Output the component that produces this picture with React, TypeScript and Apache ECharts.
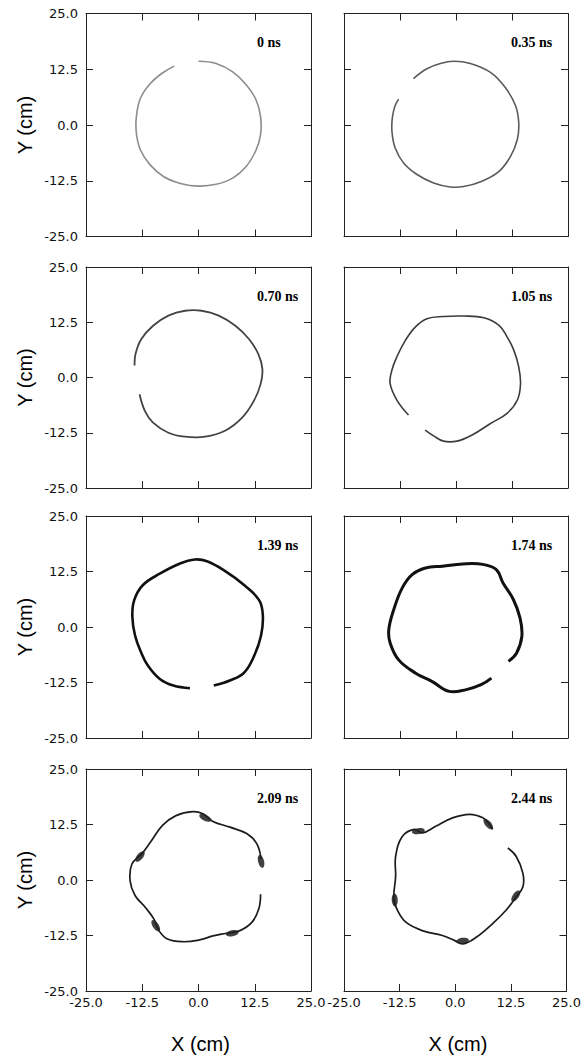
import React, { useEffect, useRef } from "react";
import * as echarts from "echarts";

// Panel time stamps
const timeLabels = ["0 ns", "0.35 ns", "0.70 ns", "1.05 ns", "1.39 ns", "1.74 ns", "2.09 ns", "2.44 ns"];
// Axis tick values (cm)
const axisTicks = [-25, -12.5, 0, 12.5, 25];

// Ring outlines, [x, y] in cm, in order along the ring
const ring0ns = [
  [0, 14.3], [3.9, 13.8], [7.6, 11.9], [10.6, 9.0], [12.8, 5.6], [13.8, 1.8], [13.8, -2.1],
  [12.8, -5.6], [10.6, -9.3], [7.6, -11.9], [3.9, -13.3], [0, -13.7], [-4.0, -13.1],
  [-7.7, -11.6], [-10.7, -9.0], [-12.9, -5.6], [-13.8, -1.9], [-13.8, 1.9], [-12.9, 6.0],
  [-10.7, 9.3], [-8.1, 11.6], [-5.4, 13.2],
];
const ring035ns = [
  [-9.5, 10.4], [-6.5, 12.6], [-3.5, 13.8], [-0.5, 14.3], [3.2, 13.8], [7.7, 11.8], [11.0, 8.4],
  [13.3, 4.3], [14.0, 0.5], [13.7, -3.2], [12.2, -7.0], [9.6, -10.4], [5.8, -12.6], [1.7, -13.8],
  [-1.3, -13.9], [-5.0, -13.0], [-8.7, -11.1], [-11.7, -8.5], [-13.6, -5.1], [-14.3, -1.4],
  [-14.2, 1.7], [-13.6, 4.3], [-12.8, 5.8],
];
const ring070ns = [
  [-14.2, 2.7], [-14.0, 5.3], [-12.7, 8.7], [-10.1, 11.7], [-6.7, 14.0], [-3.0, 15.1], [0.7, 15.1],
  [4.5, 14.0], [8.2, 11.7], [11.2, 8.7], [13.3, 5.3], [14.2, 1.9], [13.8, -1.5], [12.3, -5.3],
  [9.7, -9.1], [6.0, -12.0], [1.5, -13.4], [-3.0, -13.4], [-6.7, -12.5], [-10.1, -10.2],
  [-11.9, -7.6], [-13.1, -3.8],
];
const ring105ns = [
  [-10.6, -8.5], [-13.2, -5.1], [-14.7, -1.4], [-14.3, 1.7], [-13.2, 4.7], [-11.3, 8.4],
  [-9.1, 11.4], [-6.5, 13.3], [-2.8, 13.8], [1.7, 13.9], [6.2, 13.5], [9.6, 11.8], [11.4, 9.2],
  [12.9, 6.2], [14.0, 2.4], [14.4, -1.4], [13.7, -5.1], [11.4, -8.1], [7.7, -10.4], [3.6, -13.0],
  [0.2, -14.4], [-2.8, -14.4], [-5.0, -13.2], [-6.9, -11.9],
];
const ring139ns = [
  [3.4, -13.2], [7.1, -12.0], [10.2, -10.2], [12.4, -6.4], [13.9, -1.9], [14.3, 2.6], [13.5, 6.0],
  [10.2, 9.4], [5.6, 12.8], [1.9, 14.8], [-0.8, 15.2], [-4.1, 14.3], [-8.6, 12.0], [-12.4, 9.4],
  [-14.3, 6.0], [-14.7, 2.3], [-14.1, -1.9], [-12.8, -5.6], [-11.3, -8.6], [-8.6, -11.7],
  [-5.6, -13.2], [-1.9, -13.8],
];
const ring174ns = [
  [11.7, -7.7], [13.5, -5.9], [14.7, -2.1], [14.3, 2.0], [12.8, 6.2], [10.5, 9.9], [9.0, 12.9],
  [6.0, 14.1], [1.5, 14.2], [-3.0, 13.7], [-6.8, 13.3], [-9.8, 11.8], [-12.0, 8.8], [-13.9, 3.9],
  [-15.0, -0.6], [-14.7, -3.6], [-12.8, -7.4], [-9.0, -10.4], [-5.3, -12.3], [-1.5, -14.5],
  [2.3, -14.1], [5.6, -13.0], [7.9, -11.5],
];
const ring209ns = [
  [13.8, -3.2], [13.4, -6.5], [11.9, -9.5], [9.2, -11.4], [6.2, -12.0], [3.2, -12.6], [0.2, -13.5],
  [-3.5, -13.9], [-6.9, -13.3], [-8.8, -11.4], [-9.9, -8.8], [-11.8, -6.2], [-14.1, -3.5],
  [-15.2, -0.2], [-14.8, 3.6], [-12.6, 5.9], [-10.7, 8.5], [-8.0, 12.3], [-5.0, 14.5],
  [-1.3, 15.4], [1.0, 14.9], [3.2, 13.2], [7.0, 11.9], [10.8, 10.4], [13.0, 8.1], [13.9, 4.7],
];
const ring244ns = [
  [11.8, 7.2], [13.7, 5.3], [15.2, 1.5], [15.2, -1.5], [13.7, -3.8], [11.4, -6.8], [8.4, -9.8],
  [4.7, -12.9], [1.7, -14.4], [-0.2, -13.6], [-2.9, -12.5], [-7.4, -11.4], [-11.1, -9.5],
  [-13.0, -6.8], [-13.8, -4.2], [-13.4, 0.8], [-13.4, 5.3], [-11.9, 9.8],
  [-9.2, 11.4], [-7.4, 10.6], [-4.4, 12.1], [-0.6, 14.0], [3.2, 14.8], [6.2, 14.0], [7.7, 12.5],
  [8.4, 11.4],
];
const rings = [ring0ns, ring035ns, ring070ns, ring105ns, ring139ns, ring174ns, ring209ns, ring244ns];

// Dense particle clumps visible on the ring in the last panels, [x, y] in cm
const clumps209ns = [[-13.0, 5.3], [1.5, 14.0], [13.9, 4.2], [7.5, -12.0], [-9.5, -10.3]];
const clumps244ns = [[-8.3, 11.0], [7.4, 12.6], [-13.6, -4.5], [13.6, -3.6], [1.6, -13.7]];
const clumps = [[], [], [], [], [], [], clumps209ns, clumps244ns];

const ringStyles = [
  { color: "#8c8c8c", width: 1.6 },
  { color: "#5a5a5a", width: 1.6 },
  { color: "#444444", width: 1.8 },
  { color: "#3c3c3c", width: 1.6 },
  { color: "#111111", width: 2.6 },
  { color: "#111111", width: 3 },
  { color: "#1c1c1c", width: 1.7 },
  { color: "#1c1c1c", width: 1.7 },
];

// Orientation of a clump along its ring (degrees), from the nearest ring neighbours
function tangentAngle(ring: number[][], p: number[]) {
  let best = 0;
  let bd = Infinity;
  ring.forEach((q, k) => {
    const d = (q[0] - p[0]) ** 2 + (q[1] - p[1]) ** 2;
    if (d < bd) {
      bd = d;
      best = k;
    }
  });
  const a = ring[Math.max(0, best - 1)];
  const b = ring[Math.min(ring.length - 1, best + 1)];
  return (Math.atan2(b[1] - a[1], b[0] - a[0]) * 180) / Math.PI;
}

export default function App() {
  const ref = useRef<HTMLDivElement>(null);

  useEffect(() => {
    document.body.style.margin = "0";
    const chart = echarts.init(ref.current!, null, { renderer: "svg" });

    const cols = [
      { left: 86, width: 225 },
      { left: 344, width: 224 },
    ];
    const rows = [
      { top: 13.5, height: 223 },
      { top: 267, height: 221 },
      { top: 516, height: 222 },
      { top: 769, height: 222 },
    ];

    const fmt = (v: number) => {
      const t = axisTicks.find((a) => Math.abs(a - v) < 1e-6);
      return t === undefined ? "" : t.toFixed(1);
    };
    const labelFont = {
      fontFamily: "DejaVu Sans",
      fontSize: 13,
      color: "#111",
    };
    const lineStyle = { color: "#222", width: 1 };

    const grids: any[] = [];
    const xAxes: any[] = [];
    const yAxes: any[] = [];
    const series: any[] = [];
    const graphics: any[] = [];

    for (let i = 0; i < 8; i++) {
      const r = Math.floor(i / 2);
      const c = i % 2;
      const g = { left: cols[c].left, width: cols[c].width, top: rows[r].top, height: rows[r].height };
      grids.push({ ...g, show: false, containLabel: false });
      const base = {
        type: "value",
        gridIndex: i,
        min: -25,
        max: 25,
        interval: 12.5,
        splitLine: { show: false },
        axisLine: { show: true, onZero: false, lineStyle },
        axisTick: { show: true, inside: true, length: 7, lineStyle },
      };
      xAxes.push({
        ...base,
        position: "bottom",
        axisLabel: {
          show: r === 3,
          formatter: fmt,
          margin: 5,
          showMinLabel: true,
          showMaxLabel: true,
          ...labelFont,
        },
      });
      xAxes.push({ ...base, position: "top", axisLabel: { show: false } });
      yAxes.push({
        ...base,
        position: "left",
        axisLabel: {
          show: c === 0,
          formatter: fmt,
          margin: 8,
          showMinLabel: true,
          showMaxLabel: true,
          ...labelFont,
        },
      });
      yAxes.push({ ...base, position: "right", axisLabel: { show: false } });

      const ring = rings[i];
      const st = ringStyles[i];
      series.push({
        type: "custom",
        xAxisIndex: 2 * i,
        yAxisIndex: 2 * i,
        data: ring,
        encode: { x: 0, y: 1 },
        silent: true,
        renderItem: (params: any, api: any) => {
          if (params.dataIndex !== 0) return null;
          const pts = ring.map((p) => api.coord(p));
          return {
            type: "polyline",
            shape: { points: pts, smooth: 0.4 },
            style: { stroke: st.color, lineWidth: st.width, fill: null },
          };
        },
      });
      if (clumps[i].length) {
        series.push({
          type: "scatter",
          xAxisIndex: 2 * i,
          yAxisIndex: 2 * i,
          data: clumps[i].map((p) => ({ value: p, symbolRotate: tangentAngle(ring, p) })),
          symbol: "circle",
          symbolSize: [13, 6],
          itemStyle: { color: "#1e1e1e", opacity: 0.85 },
          silent: true,
        });
      }

      graphics.push({
        type: "text",
        x: cols[c].left + (c === 0 ? 171 : 167),
        y: rows[r].top + 29,
        style: {
          text: timeLabels[i],
          font: "bold 14px 'Liberation Serif', 'Times New Roman', serif",
          fill: "#000",
          textAlign: "left",
          textVerticalAlign: "middle",
        },
      });
    }

    // Axis titles
    rows.forEach((row) => {
      graphics.push({
        type: "text",
        x: 25,
        y: row.top + row.height / 2,
        rotation: Math.PI / 2,
        style: {
          text: "Y (cm)",
          font: "20px 'Liberation Sans', Arial, sans-serif",
          fill: "#000",
          textAlign: "center",
          textVerticalAlign: "middle",
        },
      });
    });
    cols.forEach((col) => {
      graphics.push({
        type: "text",
        x: col.left + col.width / 2 + 2,
        y: 1044,
        style: {
          text: "X (cm)",
          font: "20px 'Liberation Sans', Arial, sans-serif",
          fill: "#000",
          textAlign: "center",
          textVerticalAlign: "middle",
        },
      });
    });

    chart.setOption({
      animation: false,
      backgroundColor: "#fff",
      grid: grids,
      xAxis: xAxes,
      yAxis: yAxes,
      series,
      graphic: graphics,
    });

    return () => chart.dispose();
  }, []);

  return <div ref={ref} style={{ width: 584, height: 1057 }} />;
}
